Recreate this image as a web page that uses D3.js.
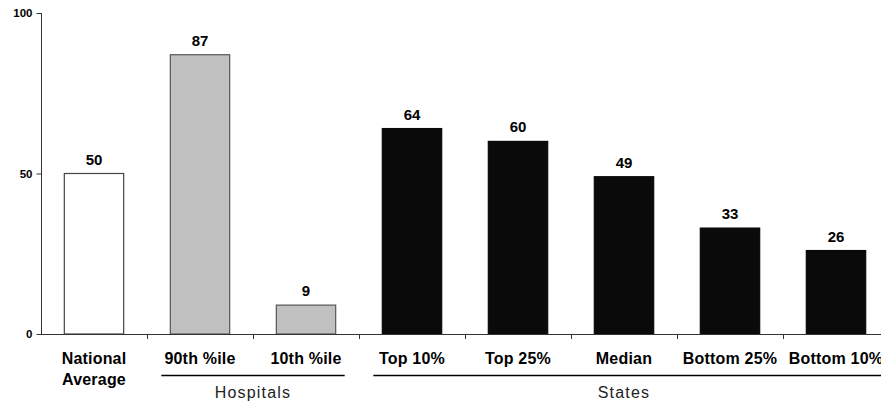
<!DOCTYPE html>
<html><head><meta charset="utf-8">
<script src="https://cdn.jsdelivr.net/npm/d3@7"></script>
<style>body{margin:0;background:#fff}svg{display:block;font-family:"Liberation Sans",Arial,sans-serif}</style>
</head><body><svg id="c" width="881" height="404"></svg>
<script>
const categories = ["National Average","90th %ile","10th %ile","Top 10%","Top 25%","Median","Bottom 25%","Bottom 10%"];
const values = [50,87,9,64,60,49,33,26];
const groups = ["national","hospital","hospital","state","state","state","state","state"];
const yTicks = [0,50,100];
const groupLabels = [{name:"Hospitals",from:1,to:2},{name:"States",from:3,to:7}];

const svg = d3.select("#c");
const x = d3.scaleBand().domain(categories).range([41,889]).paddingInner(0.44).paddingOuter(0.22);
const y = d3.scaleLinear().domain([0,100]).range([334,13]);
const fills = {national:"#ffffff",hospital:"#c0c0c0",state:"#0a0a0a"};
const strokes = {national:"#444",hospital:"#555",state:"#0a0a0a"};

// bars
svg.selectAll("rect.bar").data(values).enter().append("rect")
 .attr("x",(d,i)=>x(categories[i])).attr("width",x.bandwidth())
 .attr("y",d=>y(d)).attr("height",d=>y(0)-y(d))
 .attr("fill",(d,i)=>fills[groups[i]]).attr("stroke",(d,i)=>strokes[groups[i]]).attr("stroke-width",1.2);

// value labels
svg.selectAll("text.val").data(values).enter().append("text")
 .attr("x",(d,i)=>x(categories[i])+x.bandwidth()/2).attr("y",d=>y(d)-9)
 .attr("text-anchor","middle").attr("font-weight","bold").attr("font-size",15).text(d=>d);

// y axis
const yAxis = d3.axisLeft(y).tickValues(yTicks).tickSize(5).tickPadding(4);
const gy = svg.append("g").attr("transform","translate(41.5,0)").call(yAxis);
gy.select(".domain").attr("stroke","#333").attr("d","M0,"+y(100)+"V"+y(0));
gy.selectAll(".tick line").attr("stroke","#333");
gy.selectAll(".tick text").attr("font-weight","bold").attr("font-size",11.5).attr("font-family","Liberation Sans, Arial, sans-serif").attr("fill","#000");

// x axis line and ticks at band boundaries
const step = x.step();
const bounds = categories.map((c,i)=>41 + i*step).concat([41+categories.length*step]);
svg.append("line").attr("x1",41).attr("x2",881).attr("y1",334.5).attr("y2",334.5).attr("stroke","#333");
svg.selectAll("line.xt").data(bounds.slice(1)).enter().append("line")
 .attr("x1",d=>Math.round(d)+0.5).attr("x2",d=>Math.round(d)+0.5).attr("y1",334).attr("y2",339).attr("stroke","#333");

// category labels
const catLines = categories.map(c=> c==="National Average" ? ["National","Average"] : [c]);
catLines.forEach((lines,i)=>{
  const t = svg.append("text").attr("x",x(categories[i])+x.bandwidth()/2).attr("y",364)
   .attr("text-anchor","middle").attr("font-weight","bold").attr("font-size",16).attr("letter-spacing",0.2);
  lines.forEach((l,j)=>t.append("tspan").attr("x",x(categories[i])+x.bandwidth()/2).attr("dy",j?21:0).text(l));
});

// group lines & labels
groupLabels.forEach(g=>{
  const x1 = x(categories[g.from]) - 9;
  const x2 = g.name==="States" ? 881 : x(categories[g.to]) + x.bandwidth() + 9;
  svg.append("line").attr("x1",x1).attr("x2",x2).attr("y1",375.5).attr("y2",375.5).attr("stroke","#000").attr("stroke-width",1.3);
  const cx = (x(categories[g.from]) + x(categories[g.to]) + x.bandwidth())/2;
  svg.append("text").attr("x",cx).attr("y",398).attr("text-anchor","middle").attr("font-size",16).attr("fill","#222").attr("letter-spacing",1.2).text(g.name);
});
</script></body></html>
